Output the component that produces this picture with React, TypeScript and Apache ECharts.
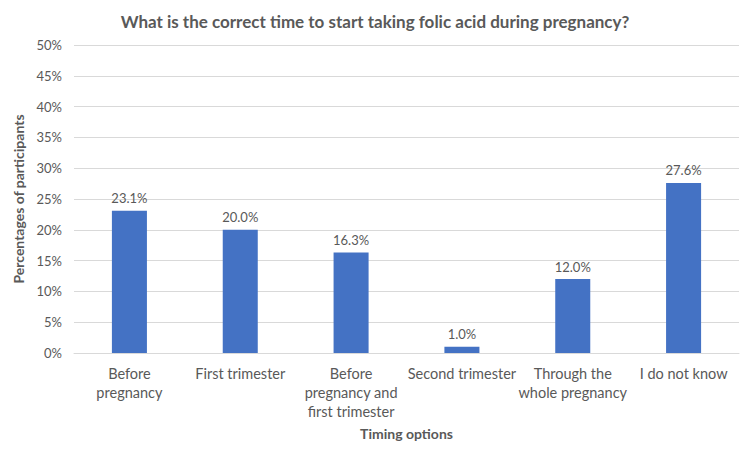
import React, { useEffect, useRef } from "react";
import * as echarts from "echarts";

const categories = [
  "Before\npregnancy",
  "First trimester",
  "Before\npregnancy and\nfirst trimester",
  "Second trimester",
  "Through the\nwhole pregnancy",
  "I do not know",
];
const percentages = [23.1, 20.0, 16.3, 1.0, 12.0, 27.6];

const FONT = "Lato, 'Noto Sans', sans-serif";
const TEXT = "#595959";

export default function App() {
  const ref = useRef<HTMLDivElement>(null);

  useEffect(() => {
    document.body.style.margin = "0";
    if (!ref.current) return;
    const chart = echarts.init(ref.current, undefined, { renderer: "svg" });
    chart.setOption({
      animation: false,
      backgroundColor: "#ffffff",
      textStyle: { fontFamily: FONT },
      title: {
        text: "What is the correct time to start taking folic acid during pregnancy?",
        left: "center",
        top: 8,
        textStyle: { fontFamily: FONT, fontSize: 17, fontWeight: "bold", color: TEXT },
      },
      grid: { left: 74, right: 11, top: 45, bottom: 102 },
      xAxis: {
        type: "category",
        data: categories,
        name: "Timing options",
        nameLocation: "middle",
        nameGap: 73,
        nameTextStyle: { fontFamily: FONT, fontSize: 14, fontWeight: "bold", color: TEXT },
        axisLine: { lineStyle: { color: "#d9d9d9" } },
        axisTick: { show: false },
        axisLabel: {
          interval: 0,
          margin: 11,
          fontFamily: FONT,
          fontSize: 14.5,
          lineHeight: 19,
          color: TEXT,
        },
      },
      yAxis: {
        type: "value",
        min: 0,
        max: 50,
        interval: 5,
        name: "Percentages of participants",
        nameLocation: "middle",
        nameGap: 41,
        nameTextStyle: { fontFamily: FONT, fontSize: 14, fontWeight: "bold", color: TEXT },
        axisLabel: { formatter: "{value}%", fontFamily: FONT, fontSize: 13, color: TEXT, margin: 12 },
        splitLine: { lineStyle: { color: "#d9d9d9" } },
        axisLine: { show: false },
        axisTick: { show: false },
      },
      series: [
        {
          type: "bar",
          data: percentages,
          barWidth: "31.6%",
          itemStyle: { color: "#4472c4" },
          label: {
            show: true,
            position: "top",
            distance: 6,
            formatter: (p: any) => `${Number(p.value).toFixed(1)}%`,
            fontFamily: FONT,
            fontSize: 13,
            color: TEXT,
          },
        },
      ],
    });
    return () => chart.dispose();
  }, []);

  return <div ref={ref} style={{ width: 750, height: 455 }} />;
}
